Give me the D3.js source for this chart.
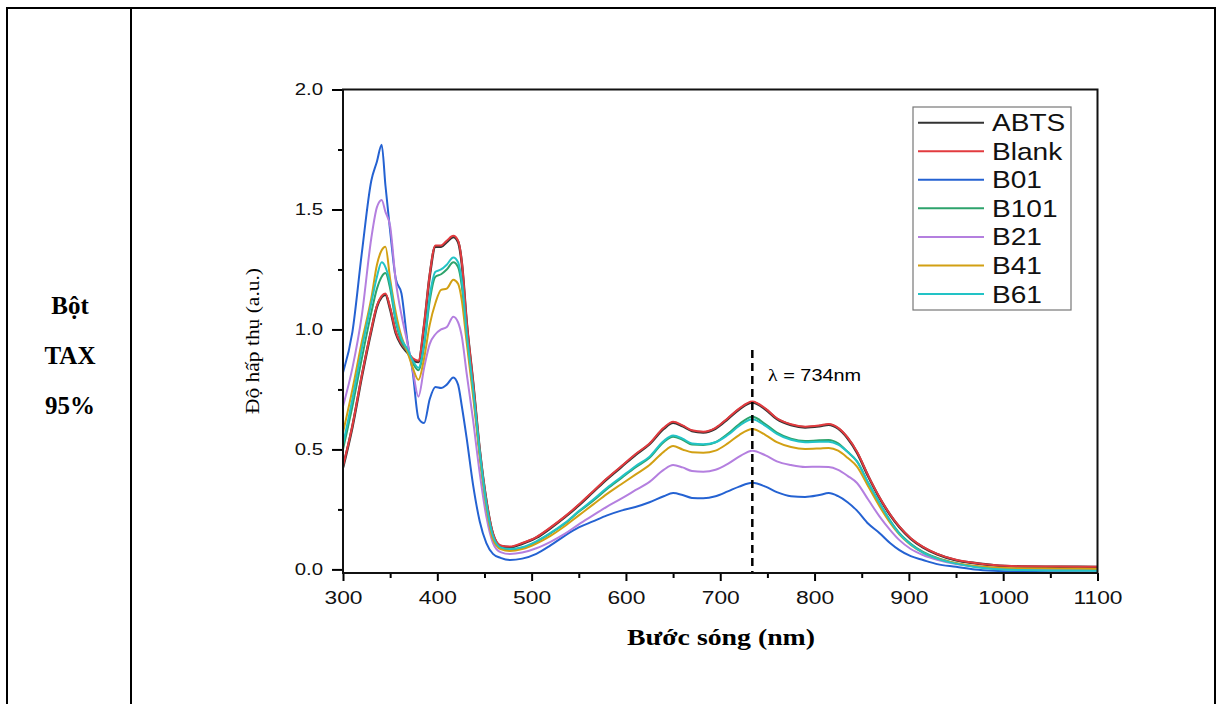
<!DOCTYPE html>
<html>
<head>
<meta charset="utf-8">
<style>
    body { margin: 0; background: #fff; }
    svg text { font-family: "Liberation Sans", Arial, sans-serif; }
    .sx { transform-box: fill-box; transform-origin: center; transform: scaleX(1.2); }
    .sxr { transform-box: fill-box; transform-origin: right center; transform: scaleX(1.2); }
    .sxl { transform-box: fill-box; transform-origin: left center; transform: scaleX(1.17); }
    .serif { font-family: "Liberation Serif", "Times New Roman", serif !important; }
</style>
</head>
<body>
<script src="https://d3js.org/d3.v7.min.js"></script>
<script>
    // wavelengths (nm) shared by every series
    var wavelengths = [300, 310, 320, 330, 336, 341, 345, 350, 356, 362, 368, 374, 380, 386, 392, 398, 404, 410, 417, 422,
        426, 431, 438, 445, 452, 459, 467, 477, 490, 505, 520, 535, 550, 565, 580, 595, 610, 625, 640, 650,
        660, 670, 682, 695, 708, 720, 734, 748, 760, 775, 790, 805, 815, 825, 835, 845, 857, 869, 880, 890,
        902, 915, 930, 950, 970, 990, 1020, 1060, 1100];

    var seriesNames = ["ABTS", "Blank", "B01", "B101", "B21", "B41", "B61"];
    var seriesColors = ["#333333", "#e23b3f", "#2462d2", "#2ea36c", "#b47fdf", "#d2a013", "#22c3c6"];

    var abts = [0.425, 0.595, 0.805, 0.995, 1.095, 1.135, 1.145, 1.085, 0.985, 0.935, 0.905, 0.875, 0.865, 1.015, 1.225, 1.345, 1.345, 1.365, 1.385, 1.365,
        1.275, 1.035, 0.775, 0.495, 0.285, 0.147, 0.097, 0.092, 0.107, 0.132, 0.172, 0.217, 0.267, 0.322, 0.377, 0.427, 0.477, 0.522, 0.586, 0.611,
        0.597, 0.577, 0.571, 0.587, 0.627, 0.667, 0.696, 0.667, 0.627, 0.602, 0.592, 0.597, 0.603, 0.587, 0.547, 0.487, 0.387, 0.297, 0.228, 0.176,
        0.128, 0.092, 0.063, 0.038, 0.026, 0.017, 0.012, 0.011, 0.010];
    var blank = [0.43, 0.60, 0.81, 1.00, 1.10, 1.14, 1.15, 1.09, 0.99, 0.94, 0.91, 0.88, 0.87, 1.02, 1.23, 1.35, 1.35, 1.37, 1.39, 1.37,
        1.28, 1.04, 0.78, 0.50, 0.29, 0.15, 0.10, 0.095, 0.11, 0.135, 0.175, 0.22, 0.27, 0.325, 0.38, 0.43, 0.48, 0.525, 0.59, 0.615,
        0.60, 0.58, 0.574, 0.59, 0.63, 0.67, 0.70, 0.67, 0.63, 0.605, 0.595, 0.60, 0.606, 0.59, 0.55, 0.49, 0.39, 0.30, 0.23, 0.178,
        0.13, 0.094, 0.065, 0.04, 0.027, 0.018, 0.013, 0.012, 0.011];
    var b01 = [0.82, 0.99, 1.32, 1.62, 1.70, 1.77, 1.60, 1.41, 1.21, 1.15, 0.96, 0.82, 0.63, 0.61, 0.71, 0.76, 0.756, 0.77, 0.80, 0.77,
        0.68, 0.55, 0.35, 0.20, 0.11, 0.065, 0.048, 0.039, 0.045, 0.065, 0.10, 0.14, 0.175, 0.20, 0.225, 0.245, 0.26, 0.28, 0.305, 0.318,
        0.31, 0.298, 0.297, 0.305, 0.325, 0.345, 0.361, 0.345, 0.322, 0.305, 0.302, 0.31, 0.318, 0.305, 0.28, 0.245, 0.19, 0.151, 0.11, 0.08,
        0.055, 0.039, 0.022, 0.011, 0.0, -0.006, -0.01, -0.012, -0.013];
    var b101 = [0.50, 0.68, 0.88, 1.07, 1.17, 1.22, 1.235, 1.17, 1.03, 0.95, 0.91, 0.86, 0.83, 0.93, 1.12, 1.22, 1.23, 1.25, 1.28, 1.26,
        1.18, 0.98, 0.74, 0.48, 0.27, 0.135, 0.09, 0.082, 0.09, 0.115, 0.15, 0.19, 0.24, 0.285, 0.335, 0.38, 0.425, 0.465, 0.53, 0.553,
        0.54, 0.52, 0.518, 0.53, 0.565, 0.605, 0.636, 0.605, 0.57, 0.545, 0.535, 0.538, 0.539, 0.525, 0.49, 0.45, 0.36, 0.276, 0.205, 0.151,
        0.107, 0.073, 0.048, 0.026, 0.012, 0.004, -0.001, -0.003, -0.004];
    var b21 = [0.68, 0.84, 1.06, 1.38, 1.51, 1.54, 1.49, 1.43, 1.20, 1.06, 0.95, 0.83, 0.72, 0.84, 0.94, 0.98, 1.00, 1.01, 1.053, 1.03,
        0.97, 0.82, 0.62, 0.40, 0.22, 0.11, 0.072, 0.064, 0.07, 0.088, 0.115, 0.148, 0.188, 0.225, 0.262, 0.295, 0.33, 0.365, 0.415, 0.435,
        0.425, 0.41, 0.407, 0.415, 0.44, 0.47, 0.495, 0.475, 0.45, 0.435, 0.427, 0.428, 0.427, 0.415, 0.39, 0.36, 0.29, 0.22, 0.165, 0.122,
        0.085, 0.06, 0.04, 0.022, 0.012, 0.005, 0.0, -0.003, -0.005];
    var b41 = [0.57, 0.75, 0.95, 1.13, 1.27, 1.33, 1.345, 1.21, 1.07, 0.97, 0.91, 0.84, 0.79, 0.88, 1.02, 1.11, 1.165, 1.17, 1.207, 1.19,
        1.12, 0.95, 0.72, 0.47, 0.26, 0.125, 0.085, 0.077, 0.085, 0.108, 0.14, 0.18, 0.225, 0.27, 0.315, 0.355, 0.395, 0.435, 0.49, 0.514,
        0.50, 0.488, 0.486, 0.495, 0.525, 0.56, 0.585, 0.56, 0.53, 0.51, 0.502, 0.504, 0.506, 0.495, 0.465, 0.428, 0.345, 0.262, 0.195, 0.145,
        0.102, 0.07, 0.046, 0.026, 0.014, 0.008, 0.004, 0.003, 0.002];
    var b61 = [0.52, 0.71, 0.92, 1.11, 1.22, 1.28, 1.26, 1.19, 1.04, 0.96, 0.92, 0.87, 0.84, 0.94, 1.14, 1.24, 1.25, 1.27, 1.30, 1.28,
        1.20, 0.99, 0.75, 0.49, 0.275, 0.14, 0.092, 0.085, 0.092, 0.117, 0.152, 0.193, 0.243, 0.29, 0.34, 0.385, 0.43, 0.47, 0.535, 0.558,
        0.545, 0.525, 0.522, 0.53, 0.56, 0.598, 0.626, 0.598, 0.565, 0.54, 0.53, 0.532, 0.532, 0.52, 0.49, 0.45, 0.36, 0.276, 0.203, 0.148,
        0.104, 0.07, 0.045, 0.024, 0.01, 0.002, -0.003, -0.005, -0.006];

    var xTicks = [300, 400, 500, 600, 700, 800, 900, 1000, 1100];
    var yTicks = [0.0, 0.5, 1.0, 1.5, 2.0];
    var markWavelength = 734;

    var seriesValues = [abts, blank, b01, b101, b21, b41, b61];

    var width = 1219, height = 704;

    var svg = d3.select("body").append("svg")
        .attr("width", width)
        .attr("height", height);

    // table cell borders
    var grid = svg.append("g").attr("stroke", "#000").attr("stroke-width", 2).attr("fill", "none");
    grid.append("path").attr("d", "M7,704V8H1215V704");
    grid.append("line").attr("x1", 131).attr("x2", 131).attr("y1", 8).attr("y2", 704);

    var rowLabel = ["Bột", "TAX", "95%"];
    svg.selectAll(".rowlab").data(rowLabel).enter().append("text")
        .attr("class", "serif")
        .attr("x", 70)
        .attr("y", function (d, i) { return 314 + i * 50; })
        .attr("text-anchor", "middle")
        .attr("font-size", 25)
        .attr("font-weight", "bold")
        .text(function (d) { return d; });

    var x = d3.scaleLinear().domain([300, 1100]).range([343, 1097.5]);
    var y = d3.scaleLinear().domain([-0.015, 2.0]).range([573, 89.5]);

    // axes
    var xAxis = svg.append("g").attr("transform", "translate(0,573)")
        .call(d3.axisBottom(x).tickValues(xTicks).tickSize(8).tickPadding(10).tickFormat(d3.format("d")));
    svg.append("g").attr("transform", "translate(0,573)")
        .call(d3.axisBottom(x).tickValues(d3.range(350, 1100, 100)).tickSize(5).tickFormat(""));
    var yAxis = svg.append("g").attr("transform", "translate(343,0)")
        .call(d3.axisLeft(y).tickValues(yTicks).tickSize(11).tickPadding(9).tickFormat(d3.format(".1f")));
    svg.append("g").attr("transform", "translate(343,0)")
        .call(d3.axisLeft(y).tickValues([0.25, 0.75, 1.25, 1.75]).tickSize(5).tickFormat(""));

    svg.selectAll(".domain").remove();
    svg.selectAll(".tick line").attr("stroke", "#000").attr("stroke-width", 2);
    xAxis.selectAll("text").attr("class", "sx").attr("font-size", 19).attr("fill", "#111")
        .style("font-family", "Liberation Sans");
    yAxis.selectAll("text").attr("class", "sxr").attr("font-size", 17).attr("fill", "#111")
        .style("font-family", "Liberation Sans");

    // data lines
    var line = d3.line()
        .x(function (d) { return x(d[0]); })
        .y(function (d) { return y(d[1]); })
        .curve(d3.curveMonotoneX);

    svg.append("clipPath").attr("id", "clip")
        .append("rect").attr("x", 343).attr("y", 89.5).attr("width", 754.5).attr("height", 483.5);

    svg.append("g").attr("clip-path", "url(#clip)")
        .selectAll("path").data(seriesValues).enter().append("path")
        .attr("fill", "none")
        .attr("stroke", function (d, i) { return seriesColors[i]; })
        .attr("stroke-width", function (d, i) { return i === 0 ? 2.6 : 2; })
        .attr("stroke-linejoin", "round")
        .attr("d", function (vals) {
            return line(wavelengths.map(function (w, k) { return [w, vals[k]]; }));
        });

    // plot frame
    svg.append("rect")
        .attr("x", 343).attr("y", 89.5).attr("width", 754.5).attr("height", 483.5)
        .attr("fill", "none").attr("stroke", "#111").attr("stroke-width", 2);

    // 734 nm marker
    svg.append("line")
        .attr("x1", x(markWavelength)).attr("x2", x(markWavelength))
        .attr("y1", 350).attr("y2", 572)
        .attr("stroke", "#000").attr("stroke-width", 2.5).attr("stroke-dasharray", "8,5");
    var lam = svg.append("text").attr("class", "sxl").attr("x", 768).attr("y", 381).attr("font-size", 17);
    lam.append("tspan").attr("class", "serif").text("λ");
    lam.append("tspan").text(" = " + markWavelength + "nm");

    // legend
    var legend = svg.append("g");
    legend.append("rect").attr("x", 913).attr("y", 107).attr("width", 158).attr("height", 203)
        .attr("fill", "#fff").attr("stroke", "#777").attr("stroke-width", 1.2);
    var items = legend.selectAll(".item").data(seriesNames).enter().append("g")
        .attr("transform", function (d, i) { return "translate(0," + (122.7 + i * 28.55) + ")"; });
    items.append("line").attr("x1", 918).attr("x2", 984)
        .attr("stroke", function (d, i) { return seriesColors[i]; }).attr("stroke-width", 2);
    items.append("text").attr("class", "sxl").attr("x", 992).attr("y", 8.5)
        .attr("font-size", 24).attr("fill", "#111").text(function (d) { return d; });

    // axis titles
    svg.append("text").attr("class", "serif")
        .attr("transform", "translate(259,341) rotate(-90)")
        .attr("text-anchor", "middle")
        .attr("font-size", 19)
        .attr("textLength", 146).attr("lengthAdjust", "spacingAndGlyphs")
        .text("Độ hấp thụ (a.u.)");
    svg.append("text").attr("class", "serif")
        .attr("x", 627).attr("y", 645)
        .attr("font-size", 23).attr("font-weight", "bold")
        .attr("textLength", 188).attr("lengthAdjust", "spacingAndGlyphs")
        .text("Bước sóng (nm)");
</script>
</body>
</html>
